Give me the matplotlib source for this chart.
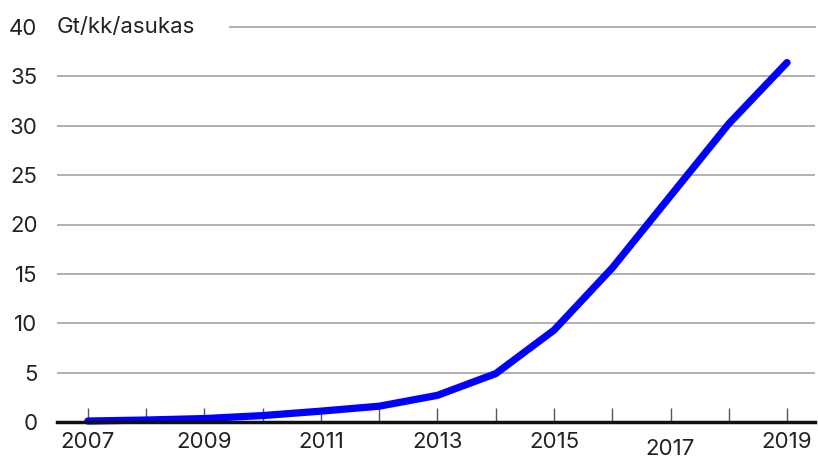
import matplotlib
matplotlib.use("Agg")
import matplotlib.pyplot as plt

# Gt per kk per capita
years = [2007, 2008, 2009, 2010, 2011, 2012, 2013, 2014, 2015, 2016, 2017, 2018, 2019]
values = [0.1, 0.2, 0.35, 0.65, 1.1, 1.6, 2.7, 4.9, 9.3, 15.6, 22.9, 30.2, 36.4]
label_years = [2007, 2009, 2011, 2013, 2015, 2017, 2019]
y_ticks = [0, 5, 10, 15, 20, 25, 30, 35, 40]
unit = "Gt/kk/asukas"

plt.rcParams['font.family'] = ['Inter', 'DejaVu Sans']
fs = 16

fig = plt.figure(figsize=(8.18, 4.66), dpi=100)
ax = fig.add_axes([57/818, 44/466, (815-57)/818, (422-27)/466])

ax.plot(years, values, color='#0000ff', lw=5.2, solid_capstyle='round',
        solid_joinstyle='round', zorder=3, clip_on=False)

ax.set_xlim(2006.47, 2019.48)
ax.set_ylim(0, 40)

ax.set_yticks(y_ticks)
ax.set_yticklabels([str(v) for v in y_ticks], fontsize=fs, color='#222222')
ax.tick_params(axis='y', length=0, pad=14)

ax.set_xticks(label_years)
ax.set_xticklabels([str(y) for y in label_years], fontsize=fs, color='#222222')
ax.set_xticks([y for y in years if y not in label_years], minor=True)
ax.tick_params(axis='x', which='both', direction='in', length=10, width=1,
               color='#555555', pad=7)
# 2017 label sits a bit lower in the original
ax.xaxis.get_major_ticks()[label_years.index(2017)].set_pad(12)

for v in y_ticks[1:-1]:
    ax.axhline(v, color='#b0b0b0', lw=1.4, zorder=1)
# top gridline starts after the unit label
ax.plot([(230 - 57) / (815 - 57), 1], [40, 40], transform=ax.get_yaxis_transform(),
        color='#b0b0b0', lw=1.4, clip_on=False, zorder=1)
ax.text(0, 40, unit, transform=ax.get_yaxis_transform(), fontsize=fs,
        color='#222222', ha='left', va='center', clip_on=False)

for s in ['top', 'right', 'left']:
    ax.spines[s].set_visible(False)
ax.spines['bottom'].set_linewidth(2.5)
ax.spines['bottom'].set_color('#111111')
ax.spines['bottom'].set_zorder(4)

fig.savefig('out.png', dpi=100)
